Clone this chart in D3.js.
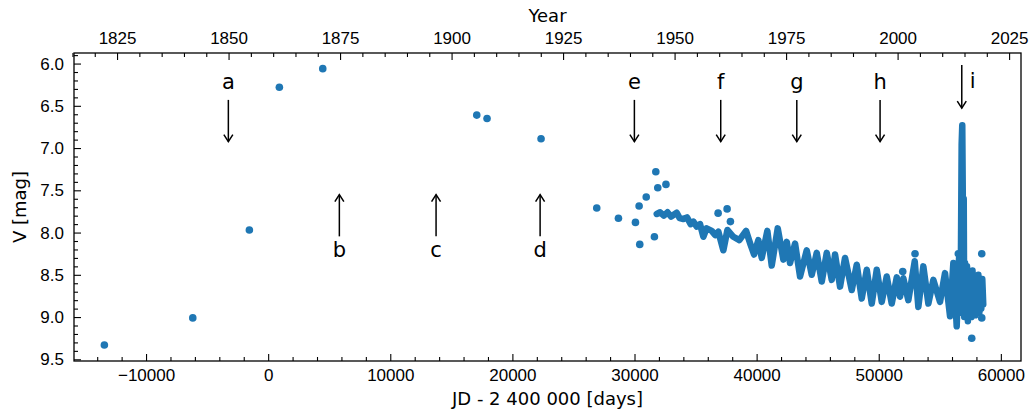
<!DOCTYPE html>
<html>
<head>
<meta charset="utf-8">
<script src="https://cdn.jsdelivr.net/npm/d3@7"></script>
<style>
  body { margin: 0; background: #fff; }
  svg { display: block; font-family: "DejaVu Sans", sans-serif; }
</style>
</head>
<body>
<svg id="chart" width="1033" height="412"></svg>
<script>
// isolated observations (JD - 2400000, V mag)
const pointJD = [-13413, -6174, -1539, 917, 4471, 17082, 17925, 22347, 26908, 28684,
  30077, 30377, 30430, 30960, 31630, 31745, 31905, 32575, 36846, 37583, 37855,
  51965, 52972, 56518, 58436, 57616, 58436];
const pointV = [9.33, 9.01, 7.97, 6.28, 6.06, 6.61, 6.65, 6.89, 7.71, 7.83,
  7.88, 7.685, 8.14, 7.58, 8.05, 7.28, 7.47, 7.43, 7.77, 7.72, 7.87,
  8.46, 8.25, 8.25, 8.25, 9.25, 9.01];

// dense light curve traced along the band (peaks and troughs)
const curveJD = [31821, 32100, 32400, 32700, 33000, 33459, 33700, 34000, 34300, 34600,
  34819, 35100, 35367, 35637, 35900, 36325, 36600, 36866, 37276, 37604,
  38095, 38585, 39134, 39519, 39789, 40141, 40419, 40878, 41238, 41729,
  42190, 42467, 42737, 43147, 43556, 44105, 44514, 44924, 45333, 45743,
  46152, 46423, 46832, 47242, 47790, 48200, 48609, 49019, 49428, 49837,
  50246, 50656, 51065, 51475, 51745, 52014, 52424, 52948, 53243, 53653,
  54063, 54472, 55018, 55428, 55838, 56110, 56384, 56577, 56700, 56790,
  56840, 56880, 56920, 56960, 57000, 57070, 57150, 57230, 57300, 57380,
  57450, 57530, 57600, 57680, 57760, 57840, 57920, 58000, 58080, 58160,
  58240, 58320, 58400, 58480, 58560];
const curveV = [7.78, 7.76, 7.80, 7.76, 7.81, 7.765, 7.83, 7.84, 7.82, 7.90,
  7.87, 7.93, 7.90, 8.05, 7.95, 7.98, 8.03, 7.99, 8.21, 7.97,
  8.05, 8.09, 7.98, 8.15, 8.26, 8.09, 8.30, 7.98, 8.39, 7.95,
  8.32, 8.11, 8.36, 8.13, 8.52, 8.21, 8.50, 8.24, 8.58, 8.24,
  8.56, 8.26, 8.64, 8.30, 8.68, 8.38, 8.78, 8.44, 8.84, 8.44,
  8.82, 8.52, 8.84, 8.53, 8.76, 8.54, 8.80, 8.34, 8.88, 8.40,
  8.84, 8.56, 8.82, 8.48, 8.99, 8.36, 9.11, 8.30, 8.95, 6.95,
  6.73, 7.50, 8.60, 7.60, 9.00, 8.36, 8.95, 8.40, 9.05, 8.45,
  8.95, 8.50, 9.00, 8.45, 8.95, 8.55, 8.98, 8.52, 8.92, 8.50,
  8.95, 8.55, 8.90, 8.55, 8.85];

// marked epochs
const eventLabels = ['a', 'b', 'c', 'd', 'e', 'f', 'g', 'h', 'i'];
const eventJD = [-3260, 5830, 13750, 22270, 29990, 37060, 43290, 50110, 56800];
const eventDir = ['down', 'up', 'up', 'up', 'down', 'down', 'down', 'down', 'down'];
// arrow tail / tip in magnitudes
const downTail = 6.43, downTip = 6.923;
const upTail = 8.045, upTip = 7.552;
const spikeTail = 6.017, spikeTip = 6.528;

const xTicks = [-10000, 0, 10000, 20000, 30000, 40000, 50000, 60000];
const yTicks = [6.0, 6.5, 7.0, 7.5, 8.0, 8.5, 9.0, 9.5];
const yearTicks = [1825, 1850, 1875, 1900, 1925, 1950, 1975, 2000, 2025];

const blue = '#1f77b4';
const margin = {left: 74, right: 12, top: 53, bottom: 51};
const W = 1033, H = 412;
const iw = W - margin.left - margin.right;
const ih = H - margin.top - margin.bottom;

const yearToJD = yr => 51544.5 + (yr - 2000) * 365.25;

const svg = d3.select('#chart');
const g = svg.append('g').attr('transform', `translate(${margin.left},${margin.top})`);

const x = d3.scaleLinear().domain([-15900, 61650]).range([0, iw]);
const y = d3.scaleLinear().domain([5.875, 9.52]).range([0, ih]);

const range = (a, b, s) => d3.range(a, b + s / 2, s);
const xMinor = range(-14000, 60000, 2000).filter(v => !xTicks.includes(v));
const yMinor = range(5.9, 9.5, 0.1).map(v => +v.toFixed(1)).filter(v => !yTicks.includes(v));
const yearMinor = range(1815, 2025, 5).filter(v => !yearTicks.includes(v));

const styleAxis = sel => {
    sel.select('.domain').remove();
    sel.selectAll('line').attr('stroke', '#000').attr('stroke-width', 1.1);
    sel.selectAll('text').attr('fill', '#000').style('font-size', '17px');
};

// bottom axis
g.append('g').attr('transform', `translate(0,${ih})`)
    .call(d3.axisBottom(x).tickValues(xTicks).tickSize(-7).tickPadding(8)
        .tickFormat(d => d < 0 ? '\u2212' + Math.abs(d) : d))
    .call(styleAxis);
g.append('g').attr('transform', `translate(0,${ih})`)
    .call(d3.axisBottom(x).tickValues(xMinor).tickSize(-4).tickFormat(''))
    .call(styleAxis);

// top axis in years
g.append('g')
    .call(d3.axisTop(x).tickValues(yearTicks.map(yearToJD)).tickSize(-7).tickPadding(9)
        .tickFormat((d, i) => yearTicks[i]))
    .call(styleAxis);
g.append('g')
    .call(d3.axisTop(x).tickValues(yearMinor.map(yearToJD)).tickSize(-4).tickFormat(''))
    .call(styleAxis);

// left axis
g.append('g')
    .call(d3.axisLeft(y).tickValues(yTicks).tickSize(-7).tickPadding(10).tickFormat(d3.format('.1f')))
    .call(styleAxis);
g.append('g')
    .call(d3.axisLeft(y).tickValues(yMinor).tickSize(-4).tickFormat(''))
    .call(styleAxis);

// frame
g.append('rect')
    .attr('width', iw).attr('height', ih)
    .attr('fill', 'none').attr('stroke', '#000').attr('stroke-width', 1.3);

// data
const plot = g.append('g');
const curve = curveJD.map((d, i) => [d, curveV[i]]);
plot.append('path')
    .datum(curve)
    .attr('d', d3.line().x(d => x(d[0])).y(d => y(d[1])))
    .attr('fill', 'none')
    .attr('stroke', blue)
    .attr('stroke-width', 6.5)
    .attr('stroke-linejoin', 'round')
    .attr('stroke-linecap', 'round');

plot.selectAll('circle.obs')
    .data(pointJD.map((d, i) => [d, pointV[i]]))
    .enter()
    .append('circle')
    .attr('class', 'obs')
    .attr('cx', d => x(d[0]))
    .attr('cy', d => y(d[1]))
    .attr('r', 3.8)
    .attr('fill', blue);

// arrows
const arrowHead = (sel, x0, y0, dir) => {
    const s = dir === 'down' ? -1 : 1;
    sel.append('path')
        .attr('d', `M ${x0 - 4.5} ${y0 + s * 7} L ${x0} ${y0} L ${x0 + 4.5} ${y0 + s * 7}`)
        .attr('fill', 'none').attr('stroke', '#000').attr('stroke-width', 1.5);
};

const ann = g.append('g');
eventLabels.forEach((lbl, i) => {
    const ax = x(eventJD[i]);
    const isSpike = lbl === 'i';
    const down = eventDir[i] === 'down';
    const tail = isSpike ? spikeTail : (down ? downTail : upTail);
    const tip = isSpike ? spikeTip : (down ? downTip : upTip);
    ann.append('line')
        .attr('x1', ax).attr('y1', y(tail))
        .attr('x2', ax).attr('y2', y(tip))
        .attr('stroke', '#000').attr('stroke-width', 1.5);
    arrowHead(ann, ax, y(tip), eventDir[i]);
    ann.append('text')
        .attr('x', isSpike ? ax + 11 : ax)
        .attr('y', isSpike ? y(tail) + 23 : (down ? y(tail) - 11 : y(tail) + 21))
        .attr('text-anchor', 'middle')
        .style('font-size', '21px')
        .attr('fill', '#000')
        .text(lbl);
});

// axis titles
svg.append('text')
    .attr('x', margin.left + iw / 2).attr('y', 405)
    .attr('text-anchor', 'middle').style('font-size', '18px')
    .text('JD - 2 400 000 [days]');
svg.append('text')
    .attr('x', margin.left + iw / 2).attr('y', 22)
    .attr('text-anchor', 'middle').style('font-size', '18px')
    .text('Year');
svg.append('text')
    .attr('transform', `translate(26,${margin.top + ih / 2}) rotate(-90)`)
    .attr('text-anchor', 'middle').style('font-size', '18px')
    .text('V [mag]');
</script>
</body>
</html>
